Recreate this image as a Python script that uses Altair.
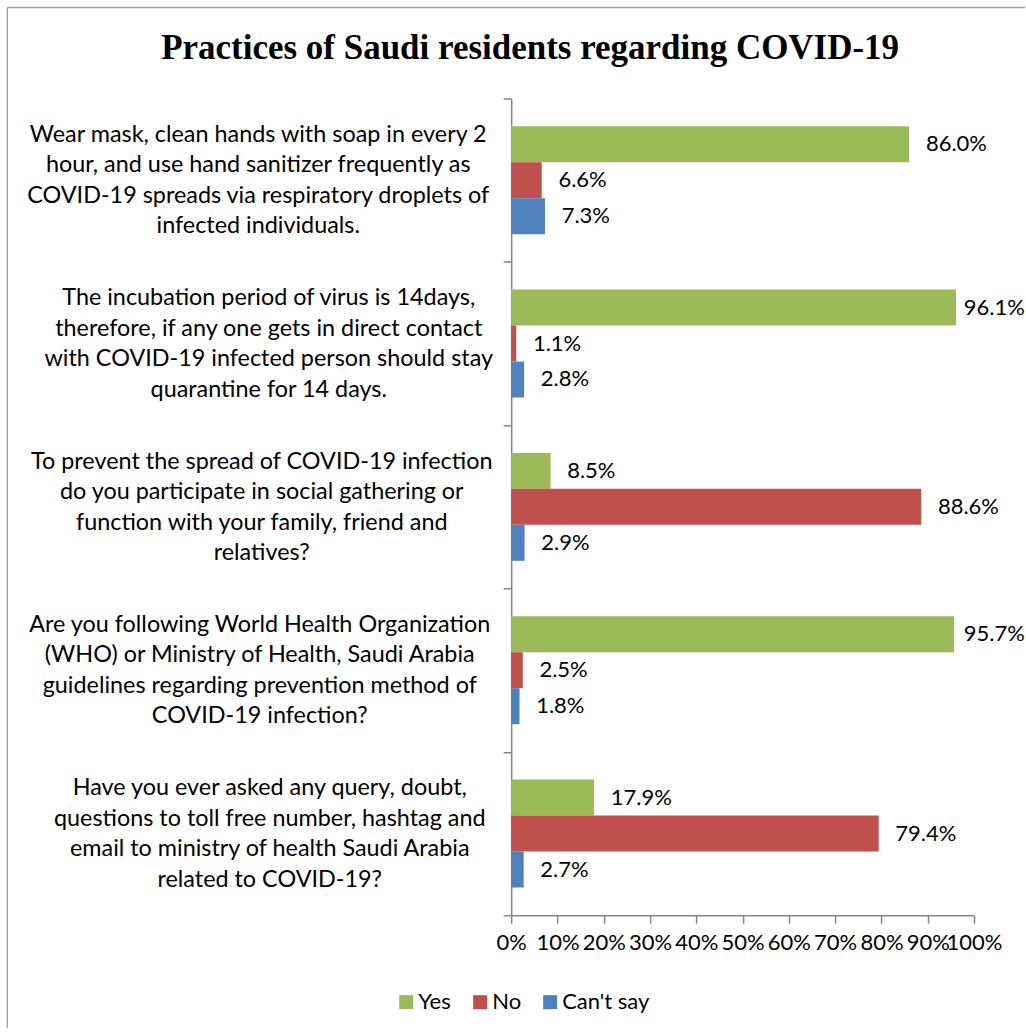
import altair as alt
import pandas as pd

title_text = "Practices of Saudi residents regarding COVID-19"

categories = [
    "Wear mask, clean hands with soap in every 2|hour, and use hand sanitizer frequently as|COVID-19 spreads via respiratory droplets of|infected individuals.",
    "The incubation period of virus is 14days,|therefore, if any one gets in direct contact|with COVID-19 infected person should stay|quarantine for 14 days.",
    "To prevent the spread of COVID-19 infection|do you participate in social gathering or|function with your family, friend and|relatives?",
    "Are you following World Health Organization|(WHO) or Ministry of Health, Saudi Arabia|guidelines regarding prevention method of|COVID-19 infection?",
    "Have you ever asked any query, doubt,|questions to toll free number, hashtag and|email to ministry of health Saudi Arabia|related to COVID-19?",
]
series = ["Yes", "No", "Can't say"]
yes_pct = [86.0, 96.1, 8.5, 95.7, 17.9]
no_pct = [6.6, 1.1, 88.6, 2.5, 79.4]
cant_pct = [7.3, 2.8, 2.9, 1.8, 2.7]
colors = ["#9BBB59", "#C0504D", "#4F81BD"]
x_ticks = [0, 0.1, 0.2, 0.3, 0.4, 0.5, 0.6, 0.7, 0.8, 0.9, 1.0]

# styling: label centring per category (label padding from the axis)
label_pad = [245.5, 235, 242, 244, 234]

rows = []
for i, c in enumerate(categories):
    for s, vals in zip(series, [yes_pct, no_pct, cant_pct]):
        rows.append({"category": c, "series": s, "value": vals[i] / 100.0})
df = pd.DataFrame(rows)

FONT = "Lato"
FS = 22
CAT_FS = 23.4
GREY = "#868686"
LINE_H = 30.5

pad_cond = {
    "condition": [
        {"test": "datum.value === '%s'" % c, "value": p}
        for c, p in zip(categories, label_pad)
    ],
    "value": 240,
}

y_enc = alt.Y(
    "category:N",
    sort=categories,
    scale=alt.Scale(paddingInner=0, paddingOuter=0),
    axis=alt.Axis(
        title=None,
        labelExpr="split(datum.label, '|')",
        labelFont=FONT,
        labelFontSize=CAT_FS,
        labelColor="black",
        labelLineHeight=LINE_H,
        labelAlign="center",
        labelBaseline="middle",
        labelOffset=-1.5 * LINE_H,
        labelPadding=pad_cond,
        labelLimit=0,
        tickBand="extent",
        tickSize=8,
        tickColor=GREY,
        tickWidth=1.5,
        domainColor=GREY,
        domainWidth=1.5,
    ),
)
yoff_enc = alt.YOffset(
    "series:N", sort=series, scale=alt.Scale(paddingOuter=0.77, paddingInner=0)
)

x_axis = alt.Axis(
    title=None,
    values=x_ticks,
    format=".0%",
    labelFont=FONT,
    labelFontSize=FS,
    labelColor="black",
    labelFlush=False,
    labelOverlap=False,
    labelPadding=9,
    tickSize=8,
    tickColor=GREY,
    tickWidth=1.5,
    domainColor=GREY,
    domainWidth=1.5,
    grid=False,
)
x_scale = alt.Scale(domain=[0, 1], nice=False, zero=True)

bars = alt.Chart(df).mark_bar().encode(
    y=y_enc,
    yOffset=yoff_enc,
    x=alt.X("value:Q", scale=x_scale, axis=x_axis),
    color=alt.Color(
        "series:N",
        sort=series,
        scale=alt.Scale(domain=series, range=colors),
        legend=alt.Legend(
            title=None,
            orient="none",
            legendX=-116,
            legendY=893,
            direction="horizontal",
            symbolType="square",
            symbolSize=196,
            symbolStrokeWidth=0,
            labelFont=FONT,
            labelFontSize=FS,
            labelColor="black",
            labelOffset=1,
            columnPadding=18,
        ),
    ),
)

value_labels = (
    alt.Chart(df)
    .transform_calculate(lx="min(datum.value + 0.036, 0.978)")
    .mark_text(align="left", baseline="middle", font=FONT, fontSize=FS, color="black")
    .encode(
        y=y_enc,
        yOffset=yoff_enc,
        x=alt.X("lx:Q", scale=x_scale, axis=x_axis),
        text=alt.Text("value:Q", format=".1%"),
    )
)

one = alt.Data(values=[{"t": title_text}])
title_mark = alt.Chart(one).mark_text(
    font="Liberation Serif", fontWeight="bold", fontSize=35, align="center",
    baseline="alphabetic", color="black",
).encode(x=alt.value(19), y=alt.value(-40), text="t:N")

frame_v = alt.Chart(one).mark_rule(color="#A0A0A0", strokeWidth=1.3).encode(
    x=alt.value(-504), y=alt.value(-91), y2=alt.value(930)
)
frame_h = alt.Chart(one).mark_rule(color="#A0A0A0", strokeWidth=1.3).encode(
    x=alt.value(-504), x2=alt.value(514), y=alt.value(-91)
)

chart = (
    alt.layer(bars, value_labels, title_mark, frame_v, frame_h)
    .properties(
        width=463,
        height=817,
        padding={"left": 6.35, "top": 6.35, "right": 0, "bottom": 0},
        background="white",
    )
    .configure_view(stroke=None)
)

chart.save("out.html", embed_options={"renderer": "svg", "actions": False})
